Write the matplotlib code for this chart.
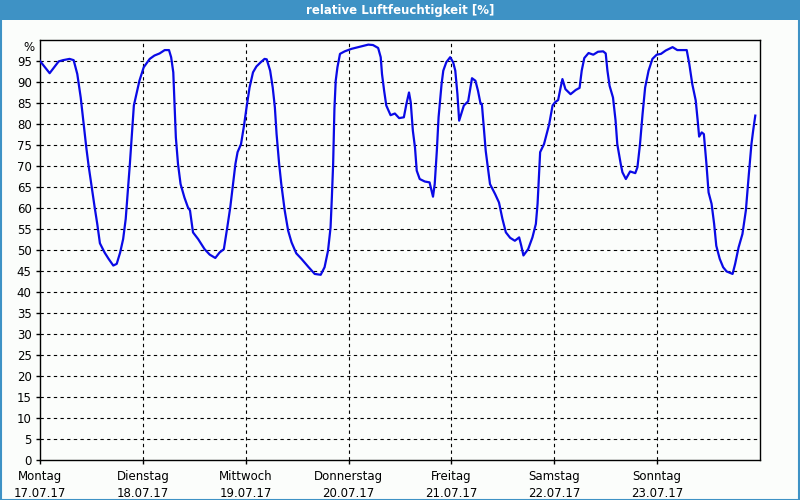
import matplotlib.pyplot as plt
from matplotlib.patches import Rectangle
from matplotlib.transforms import blended_transform_factory

# Stunden ab Montag 00:00 und relative Luftfeuchtigkeit in %
stunden = [0.0, 2.25, 4.35, 5.36, 6.9, 7.85, 8.7, 9.5, 10.2, 10.8, 11.35, 11.96, 12.75,
           13.36, 13.98, 15.07, 16.0, 17.1, 17.9, 18.7, 19.4, 20.0, 20.5, 20.97, 21.4,
           21.9, 22.5, 23.2, 24.2, 25.6, 26.7, 27.9, 29.1, 30.1, 30.6, 31.1, 31.4, 31.7,
           32.2, 32.8, 33.7, 34.5, 35.0, 35.7, 36.9, 38.4, 39.6, 40.9, 41.9, 42.9, 43.7,
           44.4, 45.0, 45.6, 46.1, 46.9, 47.6, 48.2, 48.9, 49.7, 50.5, 51.5, 52.4, 52.9,
           53.7, 54.3, 54.8, 55.2, 55.8, 56.3, 57.1, 57.9, 58.7, 59.8, 61.0, 62.6, 64.1,
           65.5, 66.4, 67.2, 67.8, 68.1, 68.4, 68.7, 69.0, 69.4, 70.0, 71.1, 72.7, 75.0,
           76.6, 77.7, 78.9, 79.5, 79.8, 80.3, 80.8, 81.8, 82.8, 83.8, 84.9, 85.5, 86.1,
           86.5, 87.0, 87.5, 87.9, 88.6, 89.8, 90.9, 91.7, 92.1, 92.6, 93.0, 93.7, 94.1,
           94.8, 95.7, 96.4, 96.9, 97.4, 97.8, 98.3, 98.9, 99.9, 100.3, 100.8, 101.6,
           102.2, 102.8, 103.1, 103.5, 104.0, 104.5, 105.0, 106.2, 107.1, 107.9, 108.7,
           109.7, 110.8, 111.8, 112.3, 112.8, 113.9, 114.9, 115.7, 116.1, 116.4, 116.7,
           117.6, 118.2, 118.8, 119.6, 120.2, 120.9, 121.4, 121.9, 122.6, 123.8, 125.0,
           125.9, 126.4, 127.0, 128.0, 129.1, 130.2, 131.4, 132.0, 132.4, 132.9, 133.7,
           134.3, 134.7, 135.5, 135.9, 136.7, 137.7, 138.9, 139.4, 140.0, 140.6, 141.2,
           142.0, 142.9, 143.9, 144.9, 146.0, 147.6, 148.7, 150.9, 151.5, 152.2, 153.0,
           153.5, 153.8, 154.4, 154.9, 155.5, 156.0, 156.7, 157.3, 157.8, 158.6, 159.4,
           160.2, 161.6, 162.2, 163.0, 163.9, 164.7, 165.4, 166.0, 166.4, 166.9]
feuchte = [95.0, 92.1, 94.9, 95.2, 95.5, 95.2, 91.9, 86.3, 80.0, 74.4, 70.0, 65.7, 60.2,
           56.2, 51.6, 49.4, 47.9, 46.3, 46.7, 49.4, 52.6, 57.4, 64.1, 70.5, 76.8,
           84.4, 87.1, 90.3, 93.5, 95.5, 96.3, 96.8, 97.6, 97.6, 95.9, 92.3, 84.8, 76.8,
           70.5, 65.7, 62.5, 60.2, 59.4, 54.2, 52.6, 50.2, 48.9, 48.1, 49.4, 50.2, 55.4,
           60.2, 65.3, 70.5, 73.3, 75.2, 79.6, 84.0, 88.7, 92.3, 93.7, 94.7, 95.5, 95.4,
           92.7, 88.7, 84.0, 77.6, 70.5, 65.7, 59.4, 54.6, 51.8, 49.2, 47.9, 46.0, 44.3,
           44.1, 45.9, 49.8, 55.4, 62.5, 70.5, 83.6, 90.3, 93.5, 96.7, 97.3, 97.9, 98.5,
           98.9, 98.8, 98.1, 95.9, 91.9, 87.9, 84.4, 82.1, 82.5, 81.4, 81.6, 84.8, 87.5,
           85.2, 78.4, 74.4, 68.9, 66.9, 66.3, 66.1, 62.7, 65.7, 73.7, 81.6, 89.5, 92.7,
           94.7, 95.9, 94.7, 92.7, 87.1, 80.8, 82.4, 84.4, 85.4, 87.9, 90.9, 90.3,
           87.9, 84.8, 84.8, 79.9, 73.6, 69.6, 65.7, 63.3, 61.3, 57.4, 54.2,
           52.9, 52.2, 53.0, 51.0, 48.7, 50.2, 53.0, 56.2, 61.0, 67.3, 73.3,
           75.2, 77.6, 79.9, 84.4, 85.2, 85.7, 88.3, 90.7, 88.3, 87.1, 88.1,
           88.6, 92.7, 95.7, 96.9, 96.5, 97.2, 97.3, 96.8, 92.7, 89.1, 86.3,
           80.8, 75.2, 70.5, 68.5, 66.9, 68.7, 68.3, 69.7, 75.2, 82.4, 88.7,
           92.7, 95.5, 96.5, 96.7, 97.5, 98.3, 97.6, 97.6, 94.3, 89.5, 85.6,
           80.4, 77.0, 78.0, 77.6, 70.5, 63.7, 61.0, 56.2, 51.0, 47.9, 45.9,
           44.9, 44.3, 46.7, 50.6, 53.8, 59.4, 68.1, 75.2, 78.4, 82.0]

tage = ["Montag\n17.07.17", "Dienstag\n18.07.17", "Mittwoch\n19.07.17",
        "Donnerstag\n20.07.17", "Freitag\n21.07.17", "Samstag\n22.07.17",
        "Sonntag\n23.07.17"]
y_ticks = list(range(0, 100, 5))

fig = plt.figure(figsize=(8, 5), dpi=100, facecolor="#fbfdfb")

# Titelleiste
fig.patches.append(Rectangle((0, 0.96), 1, 0.04, transform=fig.transFigure,
                             facecolor="#3e92c5", edgecolor="none", zorder=0))
fig.patches.append(Rectangle((0.001, 0.001), 0.998, 0.998, transform=fig.transFigure,
                             facecolor="none", edgecolor="#3e92c5", linewidth=1.5, zorder=0))
fig.text(0.5, 0.979, "relative Luftfeuchtigkeit [%]", ha="center", va="center",
         color="white", fontsize=8.5, fontweight="bold")

ax = fig.add_axes([0.05, 0.08, 0.9, 0.84])
ax.set_facecolor("#fbfdfb")
ax.plot([h / 24 for h in stunden], feuchte, color="#0a0ae6", linewidth=1.6, zorder=3)

ax.set_xlim(0, 7)
ax.set_ylim(0, 100)
ax.set_xticks(range(len(tage)))
ax.set_xticklabels(tage, fontsize=8.5, linespacing=1.45)
ax.set_yticks(y_ticks)
ax.set_yticklabels([str(v) for v in y_ticks], fontsize=8.5)
ax.tick_params(length=3, width=1, colors="black", pad=3)
ax.tick_params(axis="x", pad=4)

trans = blended_transform_factory(ax.transAxes, ax.transData)
ax.text(-0.007, 98.2, "%", transform=trans, ha="right", va="center", fontsize=8.5)

for v in y_ticks[1:]:
    ax.axhline(v, color="black", linestyle=(0, (3, 3)), linewidth=0.8, zorder=1)
for d in range(1, 7):
    ax.axvline(d, color="black", linestyle=(0, (3, 3)), linewidth=0.8, zorder=1)

for s in ax.spines.values():
    s.set_linewidth(1)
    s.set_color("black")

fig.savefig("out.png", dpi=100, facecolor=fig.get_facecolor())
